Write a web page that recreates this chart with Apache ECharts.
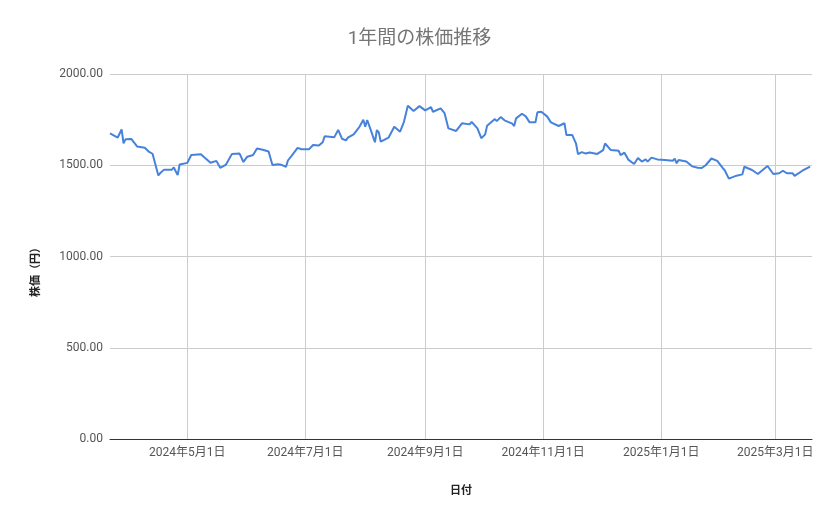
<!DOCTYPE html>
<html lang="ja">

<head>
    <meta charset="UTF-8">
    <title>1年間の株価推移</title>
    <script src="https://cdn.jsdelivr.net/npm/echarts@6.0.0/dist/echarts.min.js"></script>
    <style>
        html, body { margin: 0; padding: 0; background: #fff; }
    </style>
</head>

<body>
    <div id="main" style="width: 839px;height:519px;"></div>

    <script type="text/javascript">
        // Dates and closing prices
        const dates = [
            '2024-03-22', '2024-03-26', '2024-03-28', '2024-03-29', '2024-03-30', '2024-04-02', '2024-04-05',
            '2024-04-09', '2024-04-11', '2024-04-12', '2024-04-13', '2024-04-16', '2024-04-17', '2024-04-19',
            '2024-04-23', '2024-04-24', '2024-04-26', '2024-04-27', '2024-05-01', '2024-05-03', '2024-05-08',
            '2024-05-10', '2024-05-13', '2024-05-16', '2024-05-18', '2024-05-21', '2024-05-24', '2024-05-28',
            '2024-05-30', '2024-06-01', '2024-06-04', '2024-06-06', '2024-06-09', '2024-06-12', '2024-06-13',
            '2024-06-14', '2024-06-17', '2024-06-19', '2024-06-21', '2024-06-22', '2024-06-24', '2024-06-27',
            '2024-06-29', '2024-07-03', '2024-07-05', '2024-07-08', '2024-07-10', '2024-07-11', '2024-07-16',
            '2024-07-18', '2024-07-20', '2024-07-22', '2024-07-23', '2024-07-26', '2024-07-28', '2024-07-29',
            '2024-07-31', '2024-08-01', '2024-08-02', '2024-08-04', '2024-08-06', '2024-08-07', '2024-08-08',
            '2024-08-09', '2024-08-13', '2024-08-16', '2024-08-19', '2024-08-21', '2024-08-23', '2024-08-24',
            '2024-08-26', '2024-08-29', '2024-09-01', '2024-09-02', '2024-09-04', '2024-09-05', '2024-09-09',
            '2024-09-11', '2024-09-12', '2024-09-13', '2024-09-17', '2024-09-20', '2024-09-24', '2024-09-25',
            '2024-09-28', '2024-09-30', '2024-10-02', '2024-10-03', '2024-10-07', '2024-10-08', '2024-10-10',
            '2024-10-12', '2024-10-16', '2024-10-17', '2024-10-18', '2024-10-21', '2024-10-23', '2024-10-25',
            '2024-10-28', '2024-10-29', '2024-10-31', '2024-11-03', '2024-11-05', '2024-11-06', '2024-11-09',
            '2024-11-12', '2024-11-13', '2024-11-16', '2024-11-18', '2024-11-19', '2024-11-21', '2024-11-23',
            '2024-11-25', '2024-11-29', '2024-12-02', '2024-12-03', '2024-12-06', '2024-12-10', '2024-12-11',
            '2024-12-13', '2024-12-15', '2024-12-18', '2024-12-20', '2024-12-22', '2024-12-24', '2024-12-25',
            '2024-12-27', '2024-12-30', '2025-01-03', '2025-01-07', '2025-01-08', '2025-01-09', '2025-01-10',
            '2025-01-14', '2025-01-15', '2025-01-17', '2025-01-20', '2025-01-22', '2025-01-24', '2025-01-27',
            '2025-01-30', '2025-02-02', '2025-02-03', '2025-02-05', '2025-02-09', '2025-02-10', '2025-02-12',
            '2025-02-13', '2025-02-17', '2025-02-20', '2025-02-25', '2025-02-28', '2025-03-03', '2025-03-05',
            '2025-03-07', '2025-03-10', '2025-03-11', '2025-03-15', '2025-03-19', '2025-03-20'
        ];
        const prices = [
            1675, 1652, 1696, 1620, 1642, 1644, 1603,
            1596, 1575, 1582, 1563, 1444, 1457, 1476,
            1476, 1488, 1446, 1504, 1513, 1556, 1560,
            1541, 1514, 1524, 1486, 1504, 1561, 1564,
            1518, 1547, 1556, 1592, 1585, 1575, 1570,
            1501, 1506, 1501, 1492, 1526, 1553, 1595,
            1588, 1588, 1611, 1608, 1626, 1659, 1654,
            1694, 1645, 1636, 1651, 1669, 1697, 1711,
            1749, 1711, 1748, 1688, 1626, 1693, 1680,
            1629, 1651, 1711, 1684, 1738, 1826, 1821,
            1797, 1824, 1801, 1793, 1819, 1793, 1812,
            1785, 1793, 1702, 1688, 1730, 1724, 1738,
            1702, 1648, 1669, 1717, 1753, 1742, 1764,
            1746, 1728, 1715, 1757, 1782, 1768, 1735,
            1735, 1790, 1793, 1768, 1735, 1742, 1715,
            1730, 1666, 1666, 1618, 1561, 1572, 1564,
            1570, 1562, 1583, 1619, 1583, 1580, 1556,
            1569, 1531, 1507, 1540, 1520, 1532, 1520,
            1542, 1532, 1529, 1525, 1536, 1511, 1529,
            1520, 1529, 1494, 1486, 1485, 1500, 1537,
            1524, 1483, 1470, 1427, 1443, 1452, 1450,
            1492, 1474, 1452, 1496, 1452, 1456, 1470,
            1456, 1456, 1442, 1470, 1492, 1494
        ];

        // Tick positions on the date axis
        const tickDates = ['2024-05-01', '2024-07-01', '2024-09-01', '2024-11-01', '2025-01-01', '2025-03-01'];

        const toTime = d => +new Date(d + 'T00:00:00');
        const tickTimes = tickDates.map(toTime);
        const fontFamily = "Roboto, 'Noto Sans CJK JP', sans-serif";

        let myChart = echarts.init(document.getElementById('main'));

        let options = {
            textStyle: { fontFamily: fontFamily },
            title: {
                text: '1年間の株価推移',
                left: 'center',
                top: 25,
                textStyle: { fontSize: 19, fontWeight: 'normal', color: '#757575', fontFamily: fontFamily }
            },
            grid: { left: 110, right: 27, top: 74, bottom: 80, containLabel: false },
            xAxis: {
                // dates as timestamps on a value axis, so the ticks can sit on the 1st of each other month
                type: 'value',
                min: toTime('2024-03-22'),
                max: toTime('2025-03-20'),
                name: '日付',
                nameLocation: 'middle',
                nameGap: 47,
                nameTextStyle: { fontSize: 11, fontWeight: 'bold', color: '#222' },
                axisLine: { show: true, onZero: false, lineStyle: { color: '#333', width: 1 } },
                axisTick: { show: false, customValues: tickTimes },
                axisLabel: {
                    customValues: tickTimes,
                    margin: 8,
                    fontSize: 12,
                    color: '#555',
                    formatter: function (v) {
                        let d = new Date(v);
                        return d.getFullYear() + '年' + (d.getMonth() + 1) + '月' + d.getDate() + '日';
                    }
                },
                splitLine: { show: true, lineStyle: { color: '#cccccc', width: 1 } }
            },
            yAxis: {
                type: 'value',
                min: 0,
                max: 2000,
                interval: 500,
                name: '株価（円）',
                nameLocation: 'middle',
                nameRotate: 90,
                nameGap: 68,
                nameTextStyle: { fontSize: 11, fontWeight: 'bold', color: '#222', padding: [0, 26, 0, 0] },
                axisLine: { show: false },
                axisTick: { show: false },
                axisLabel: {
                    margin: 7,
                    fontSize: 12,
                    color: '#555',
                    formatter: v => v.toFixed(2)
                },
                splitLine: { lineStyle: { color: '#cccccc', width: 1 } }
            },
            series: [{
                name: '株価',
                type: 'line',
                data: dates.map((d, i) => [toTime(d), prices[i]]),
                showSymbol: false,
                smooth: false,
                lineStyle: { color: '#4682dc', width: 2 },
                itemStyle: { color: '#4682dc' }
            }]
        };

        myChart.setOption(options);
    </script>
</body>

</html>
